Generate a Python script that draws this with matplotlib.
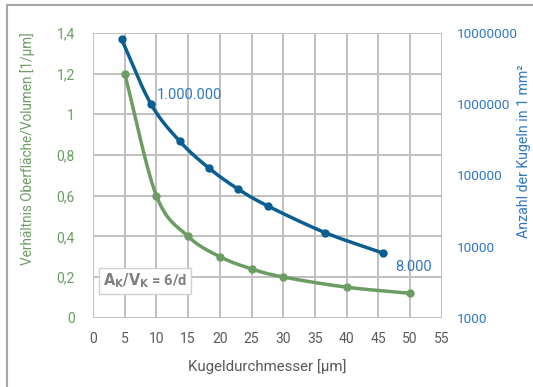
import numpy as np
import matplotlib.pyplot as plt
from matplotlib.patches import Rectangle

plt.rcParams['font.family'] = ['Roboto', 'DejaVu Sans']

# ratio surface/volume (left axis)
d_ratio = [5, 10, 15, 20, 25, 30, 40, 50]
ratio = [1.2, 0.6, 0.4, 0.3, 0.24, 0.2, 0.15, 0.12]

# number of spheres per mm² (right axis, log)
d_count = [4.5, 9.1, 13.7, 18.3, 22.9, 27.6, 36.6, 45.8]
count = [8.2e6, 1.02e6, 3.0e5, 1.26e5, 6.4e4, 3.7e4, 1.57e4, 8.05e3]

left_ticks = [0, 0.2, 0.4, 0.6, 0.8, 1.0, 1.2, 1.4]
left_labels = ['0', '0,2', '0,4', '0,6', '0,8', '1', '1,2', '1,4']
right_ticks = [1e3, 1e4, 1e5, 1e6, 1e7]
right_labels = ['1000', '10000', '100000', '1000000', '10000000']
x_ticks = list(range(0, 60, 5))

GREEN = '#6b9d62'
BLUE_LINE = '#0b5e92'
BLUE_TXT = '#2f78bf'
GRID = '#c0c0c0'
FS = 10


def smooth(x, y, n=20):
    # Catmull-Rom style smoothing like Excel's smoothed lines
    x = np.asarray(x, float)
    y = np.asarray(y, float)
    px = np.concatenate([[2 * x[0] - x[1]], x, [2 * x[-1] - x[-2]]])
    py = np.concatenate([[2 * y[0] - y[1]], y, [2 * y[-1] - y[-2]]])
    t = np.linspace(0, 1, n)[:, None]
    xs, ys = [], []
    for i in range(1, len(px) - 2):
        for p, out in ((px, xs), (py, ys)):
            p0, p1, p2, p3 = p[i - 1], p[i], p[i + 1], p[i + 2]
            c = 0.5 * ((2 * p1) + (-p0 + p2) * t + (2 * p0 - 5 * p1 + 4 * p2 - p3) * t ** 2
                       + (-p0 + 3 * p1 - 3 * p2 + p3) * t ** 3)
            out.append(c.ravel())
    return np.concatenate(xs), np.concatenate(ys)


fig = plt.figure(figsize=(5.33, 3.87), dpi=100)
ax = fig.add_axes([93 / 533, 1 - 317.7 / 387, (441.7 - 93) / 533, (317.7 - 33) / 387])
ax2 = ax.twinx()

ax.set_xlim(0, 55)
ax.set_ylim(0, 1.4)
ax2.set_yscale('log')
ax2.set_ylim(1e3, 1e7)

ax.set_xticks(x_ticks)
ax.set_yticks(left_ticks)
ax.set_yticklabels(left_labels)
ax2.set_yticks(right_ticks)
ax2.set_yticklabels(right_labels)
ax2.minorticks_off()

ax.grid(True, color=GRID, lw=1.4)
ax.set_axisbelow(True)
for a in (ax, ax2):
    for s in a.spines.values():
        s.set_visible(False)
    a.tick_params(length=0)
ax.tick_params(axis='x', colors='#595959', labelsize=FS, pad=10)
ax.tick_params(axis='y', colors=GREEN, labelsize=FS, pad=13)
ax2.tick_params(axis='y', colors=BLUE_TXT, labelsize=9.7, pad=11)

sx, sy = smooth(d_ratio, ratio)
ax.plot(sx, sy, color=GREEN, lw=2.5, zorder=3)
ax.plot(d_ratio, ratio, 'o', color=GREEN, ms=5, zorder=4)

bx, by = smooth(d_count, np.log10(count))
ax2.plot(bx, 10 ** by, color=BLUE_LINE, lw=2.5, zorder=3)
ax2.plot(d_count, count, 'o', color=BLUE_LINE, ms=5, zorder=4)

ax.set_xlabel('Kugeldurchmesser [µm]', color='#595959', fontsize=10.8)
ax.xaxis.set_label_coords(0.5, -(359 - 317.7) / 284.7)
ax.set_ylabel('Verhältnis Oberfläche/Volumen [1/µm]', color=GREEN, fontsize=9.8)
ax.yaxis.set_label_coords((35 - 93) / 348.7, 0.595)
ax2.set_ylabel('Anzahl der Kugeln in 1 mm²', color=BLUE_TXT, fontsize=10.2, rotation=90)
ax2.yaxis.set_label_coords((517 - 93) / 348.7, 0.585)

ax.text(10.1, 1.095, '1.000.000', color=BLUE_TXT, fontsize=10.5, va='center', ha='left', zorder=5)
ax.text(47.6, 0.25, '8.000', color=BLUE_TXT, fontsize=10.5, va='center', ha='left', zorder=5)
ax.text(1.6, 0.18, r'$\mathbf{A_K/V_K}$ = 6/d', color='#7f7f7f', fontsize=10.5,
        fontweight='bold', va='center', ha='left', zorder=5,
        bbox=dict(facecolor='white', edgecolor='#d0d0d0', boxstyle='square,pad=0.25', lw=1))

fig.add_artist(Rectangle((7 / 533, -0.1), 1.1, 1 - 5 / 387 + 0.1, transform=fig.transFigure,
                         fill=False, edgecolor='#a6a6a6', lw=1.5))

fig.savefig('out.png', dpi=100)
